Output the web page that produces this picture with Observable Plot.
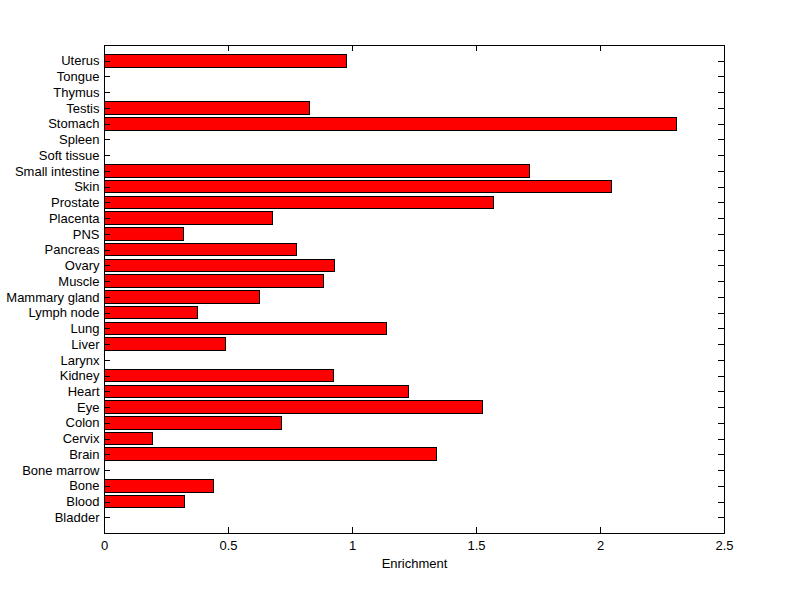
<!DOCTYPE html>
<html>
<head>
<meta charset="utf-8">
<script src="https://cdn.jsdelivr.net/npm/d3@7"></script>
<script src="https://cdn.jsdelivr.net/npm/@observablehq/plot@0.6"></script>
<style>
  html, body { margin: 0; padding: 0; background: white; }
</style>
</head>
<body>
<div id="chart"></div>
<script>
// Categories, bottom to top
const tissues = ["Bladder", "Blood", "Bone", "Bone marrow", "Brain", "Cervix", "Colon", "Eye", "Heart", "Kidney",
  "Larynx", "Liver", "Lung", "Lymph node", "Mammary gland", "Muscle", "Ovary", "Pancreas", "PNS", "Placenta",
  "Prostate", "Skin", "Small intestine", "Soft tissue", "Spleen", "Stomach", "Testis", "Thymus", "Tongue", "Uterus"];
const enrichment = [0, 0.324, 0.441, 0, 1.340, 0.194, 0.715, 1.526, 1.227, 0.927,
  0, 0.488, 1.141, 0.377, 0.629, 0.887, 0.929, 0.776, 0.320, 0.679,
  1.570, 2.046, 1.715, 0, 0, 2.308, 0.828, 0, 0, 0.977];
const xTicks = [0, 0.5, 1, 1.5, 2, 2.5];
const xLabel = "Enrichment";

const data = tissues.map((name, i) => ({name, pos: i + 1, value: enrichment[i]}));
const yTicks = data.map(d => d.pos);

const W = 800, H = 599;
const mL = 104, mR = 76, mT = 45, mB = 66;
const plotW = W - mL - mR, plotH = H - mT - mB;
const tk = 6;
const crisp = {shapeRendering: "crispEdges"};

const chart = Plot.plot({
  width: W,
  height: H,
  marginLeft: mL,
  marginRight: mR,
  marginTop: mT,
  marginBottom: mB,
  style: {fontFamily: "'Liberation Sans', Arial, sans-serif", fontSize: "13px", background: "white", color: "black"},
  x: {domain: [0, 2.5], label: null},
  y: {domain: [0, 31], label: null},
  marks: [
    Plot.rectX(data.filter(d => d.value > 0), {
      x1: 0, x2: "value",
      y1: d => d.pos - 0.4, y2: d => d.pos + 0.4,
      fill: "#ff0000", stroke: "black", strokeWidth: 1, ...crisp
    }),
    // inward ticks: left & right
    Plot.tickY(yTicks, {y: d => d, insetRight: plotW - tk, stroke: "black", ...crisp}),
    Plot.tickY(yTicks, {y: d => d, insetLeft: plotW - tk, stroke: "black", ...crisp}),
    // inward ticks: bottom & top
    Plot.tickX(xTicks, {x: d => d, insetTop: plotH - tk, stroke: "black", ...crisp}),
    Plot.tickX(xTicks, {x: d => d, insetBottom: plotH - tk, stroke: "black", ...crisp}),
    Plot.axisY({ticks: yTicks, tickFormat: d => tissues[d - 1], tickSize: 0, tickPadding: 5, label: null}),
    Plot.axisX({ticks: xTicks, tickFormat: d => String(d), tickSize: 0, tickPadding: 7, label: null}),
    Plot.text([xLabel], {text: d => d, frameAnchor: "bottom", lineAnchor: "top", dy: 25, fill: "black"}),
    Plot.frame({stroke: "black", strokeWidth: 1, ...crisp})
  ]
});
document.getElementById("chart").appendChild(chart);
</script>
</body>
</html>
